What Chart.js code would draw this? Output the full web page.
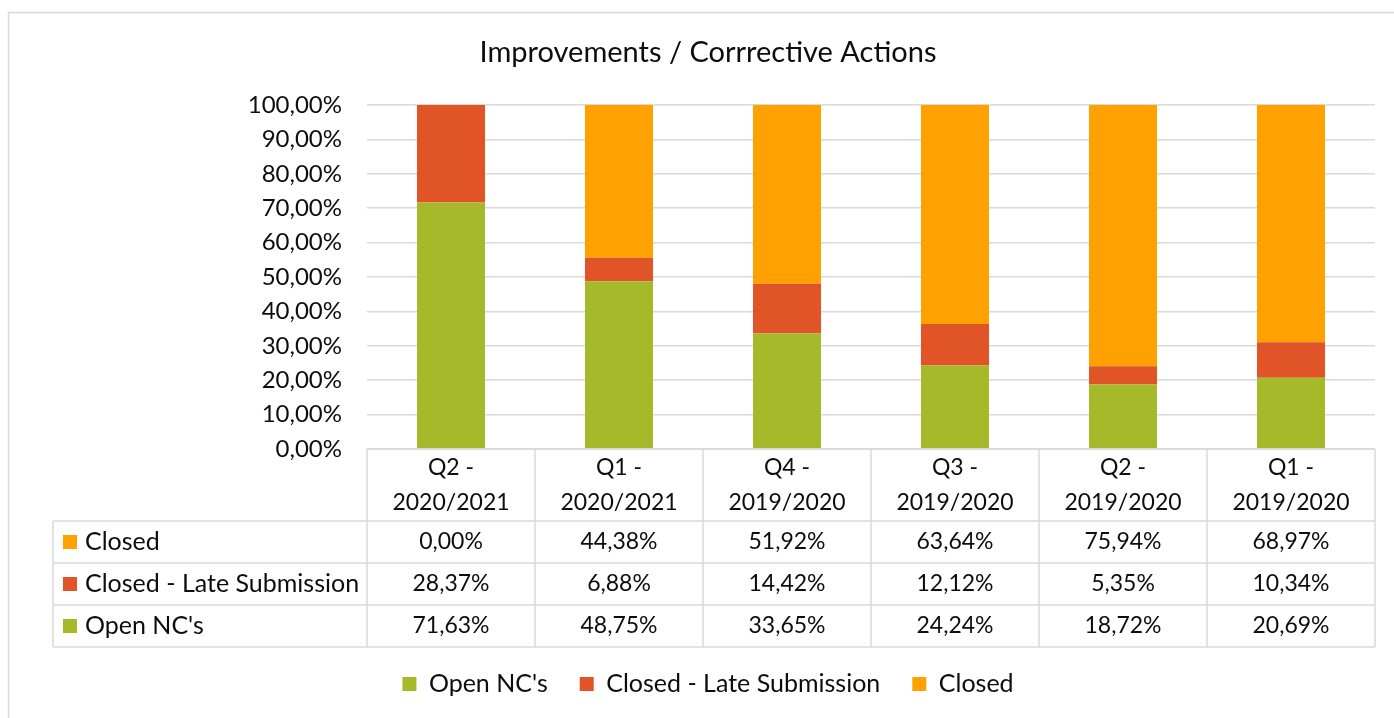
<!DOCTYPE html>
<html>
<head>
<meta charset="utf-8">
<script src="https://cdn.jsdelivr.net/npm/chart.js@4.4.1/dist/chart.umd.min.js"></script>
<style>
  html, body { margin: 0; padding: 0; background: #fff; }
  #wrap { width: 1394px; height: 718px; position: relative; }
</style>
</head>
<body>
<div id="wrap"><canvas id="c" width="1394" height="718"></canvas></div>
<script>
// ---- data ----
const categories = [
  ['Q2 -', '2020/2021'],
  ['Q1 -', '2020/2021'],
  ['Q4 -', '2019/2020'],
  ['Q3 -', '2019/2020'],
  ['Q2 -', '2019/2020'],
  ['Q1 -', '2019/2020']
];
const openNCs = [71.63, 48.75, 33.65, 24.24, 18.72, 20.69];
const closedLate = [28.37, 6.88, 14.42, 12.12, 5.35, 10.34];
const closed = [0.00, 44.38, 51.92, 63.64, 75.94, 68.97];
const yTicks = [0, 10, 20, 30, 40, 50, 60, 70, 80, 90, 100];
const seriesNames = ["Open NC's", 'Closed - Late Submission', 'Closed'];
const chartTitle = 'Improvements / Corrrective Actions';

const COLORS = ['#A6B92A', '#E05427', '#FFA100'];
const FONT = 'Lato, "Open Sans", sans-serif';
const GRID = '#D9D9D9';
const TXT = '#0D0D0D';

const fmt = v => v.toFixed(2).replace('.', ',') + '%';

// data table plugin (drawn from the x scale positions)
const tablePlugin = {
  id: 'dataTable',
  beforeDraw(chart) {
    const ctx = chart.ctx;
    ctx.save();
    ctx.fillStyle = '#fff';
    ctx.fillRect(0, 0, chart.width, chart.height);
    ctx.strokeStyle = GRID;
    ctx.lineWidth = 1.5;
    ctx.strokeRect(8.5, 12.5, chart.width + 20, chart.height + 20);
    ctx.restore();
  },
  afterDraw(chart) {
    const ctx = chart.ctx;
    const xs = chart.scales.x;
    const ca = chart.chartArea;
    const n = categories.length;
    const step = (ca.right - ca.left) / n;
    const top = ca.bottom;
    const headerH = 72;
    const rowH = 42;
    const leftX = 53;
    const rowTops = [top + headerH, top + headerH + rowH, top + headerH + 2 * rowH];
    const bottom = top + headerH + 3 * rowH;
    ctx.save();
    ctx.strokeStyle = GRID;
    ctx.lineWidth = 1.5;
    ctx.beginPath();
    ctx.moveTo(ca.left, top); ctx.lineTo(ca.right, top);
    for (let i = 0; i <= n; i++) {
      const x = ca.left + i * step;
      ctx.moveTo(x, top); ctx.lineTo(x, bottom);
    }
    [...rowTops, bottom].forEach(y => { ctx.moveTo(leftX, y); ctx.lineTo(ca.right, y); });
    ctx.moveTo(leftX, rowTops[0]); ctx.lineTo(leftX, bottom);
    ctx.stroke();

    ctx.fillStyle = TXT;
    ctx.textAlign = 'center';
    ctx.textBaseline = 'middle';
    ctx.font = '23px ' + FONT;
    categories.forEach((c, i) => {
      const x = xs.getPixelForValue(i);
      ctx.fillText(c[0], x, top + 19);
      ctx.fillText(c[1], x, top + 54);
    });
    const rows = [
      { name: seriesNames[2], color: COLORS[2], data: closed },
      { name: seriesNames[1], color: COLORS[1], data: closedLate },
      { name: seriesNames[0], color: COLORS[0], data: openNCs }
    ];
    rows.forEach((r, ri) => {
      const yc = rowTops[ri] + rowH / 2;
      ctx.fillStyle = r.color;
      ctx.fillRect(leftX + 10, yc - 7, 14, 14);
      ctx.fillStyle = TXT;
      ctx.textAlign = 'left';
      ctx.font = '25px ' + FONT;
      ctx.fillText(r.name, leftX + 32, yc);
      ctx.textAlign = 'center';
      ctx.font = '23px ' + FONT;
      r.data.forEach((v, i) => {
        ctx.fillText(fmt(v), xs.getPixelForValue(i), yc);
      });
    });
    ctx.restore();
  }
};

new Chart(document.getElementById('c'), {
  type: 'bar',
  data: {
    labels: categories.map(c => c.join(' ')),
    datasets: [
      { label: seriesNames[0], data: openNCs, backgroundColor: COLORS[0] },
      { label: seriesNames[1], data: closedLate, backgroundColor: COLORS[1] },
      { label: seriesNames[2], data: closed, backgroundColor: COLORS[2] }
    ]
  },
  options: {
    responsive: false,
    animation: false,
    events: [],
    layout: { padding: { left: 41, right: 19, top: 0, bottom: 11.5 } },
    datasets: { bar: { categoryPercentage: 1, barPercentage: 0.405 } },
    scales: {
      x: {
        stacked: true,
        grid: { display: false },
        border: { display: false },
        ticks: { display: false },
        afterFit(s) { s.height = 190.5; }
      },
      y: {
        stacked: true,
        min: 0, max: 100,
        afterBuildTicks(s) { s.ticks = yTicks.map(v => ({ value: v })); },
        afterFit(s) { s.width = 326; },
        grid: { color: GRID, lineWidth: 1.5, drawTicks: false },
        border: { display: false },
        ticks: {
          padding: 25,
          color: TXT,
          font: { family: FONT, size: 24 },
          callback: v => fmt(v)
        }
      }
    },
    plugins: {
      title: {
        display: true,
        text: chartTitle,
        color: TXT,
        font: { family: FONT, size: 29, weight: 'normal' },
        padding: { top: 35.6, bottom: 34.6 }
      },
      legend: {
        position: 'bottom',
        labels: {
          color: TXT,
          font: { family: FONT, size: 25 },
          boxWidth: 14, boxHeight: 14,
          padding: 32
        }
      },
      tooltip: { enabled: false }
    }
  },
  plugins: [tablePlugin]
});
</script>
</body>
</html>
